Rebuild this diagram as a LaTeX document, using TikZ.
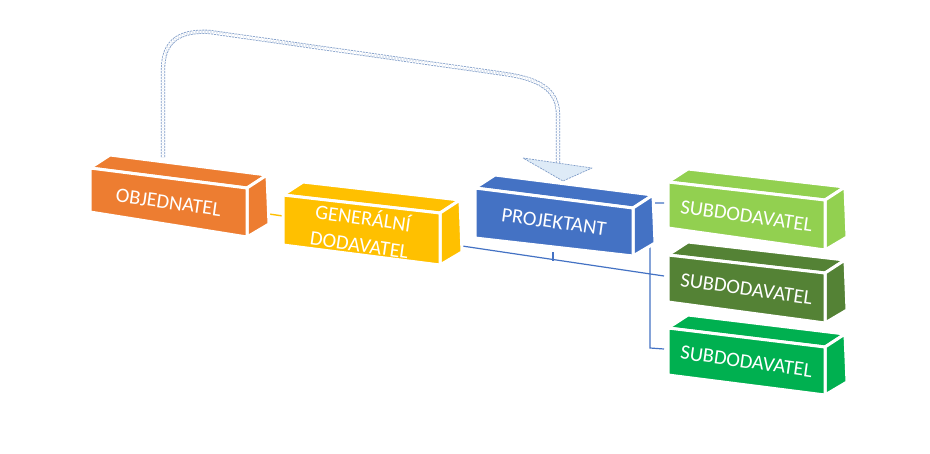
\documentclass[tikz,border=0pt]{standalone}
\usepackage{fontspec}
\setmainfont{Carlito}
\usetikzlibrary{calc}
\definecolor{cOrange}{HTML}{ED7D31}
\definecolor{cGold}{HTML}{FFC000}
\definecolor{cBlue}{HTML}{4472C4}
\definecolor{cLime}{HTML}{92D050}
\definecolor{cDark}{HTML}{548235}
\definecolor{cGreen}{HTML}{00B050}
\definecolor{cDash}{HTML}{7F9CC8}
\definecolor{cHead}{HTML}{DEEBF7}
\tikzset{
  face/.style={draw=white, line width=3pt, line join=round},
  cubetext/.style={text=white, font=\fontsize{20.5}{27}\selectfont, align=center, inner sep=0pt},
  link/.style={draw=cBlue, line width=1.2pt},
  linkgold/.style={draw=cGold, line width=1.4pt},
  band/.style={draw=cDash, line width=0.8pt, dash pattern=on 2pt off 1pt, double=white, double distance=2.6pt},
  headshape/.style={fill=cHead, draw=cDash, line width=0.7pt, dash pattern=on 2pt off 1pt, line join=round}
}
% #1 name, #2 colour, #3 x, #4 y, #5 right x, #6 rise, #7 left height, #8 right height, #9 text
\newcommand\cubeblock[9]{%
  \coordinate (#1-tl) at (#3,#4);
  \coordinate (#1-tr) at (#5,{#4+#6});
  \coordinate (#1-br) at (#5,{#4+#6+#8});
  \coordinate (#1-bl) at (#3,{#4+#7});
  \filldraw[face, fill=#2] (#1-tl) -- (#1-tr) -- ++(20,-13) -- ($(#1-tl)+(20,-13)$) -- cycle;
  \filldraw[face, fill=#2] (#1-tr) -- ++(20,-13) -- ($(#1-br)+(22,-13)$) -- (#1-br) -- cycle;
  \filldraw[face, fill=#2] (#1-tl) -- (#1-tr) -- (#1-br) -- (#1-bl) -- cycle;
  \node[cubetext, rotate=-8] (#1) at ($(#1-tl)!0.5!(#1-br)$) {#9};
}
\begin{document}
\begin{tikzpicture}[x=1pt,y=-1pt]
\useasboundingbox[fill=white] (0,0) rectangle (930,453);

% connectors behind blocks
\coordinate (objR) at (255,212);
\coordinate (gdL) at (283,216);
\coordinate (gdR) at (442,243);
\coordinate (sub2L) at (664,276);
\coordinate (projB) at (553,252);
\coordinate (projJ) at (553,261);
\coordinate (sub1L) at (664,203);
\coordinate (sub3L) at (664,349);
\coordinate (railTop) at (650,203);
\coordinate (railBot) at (650,348);

\draw[linkgold] (objR) -- (gdL);
\draw[link] (gdR) -- (sub2L);
\draw[link] (projB) -- (projJ);
\draw[link] (sub1L) -- (railTop) -- (railBot) -- (sub3L);

\cubeblock{obj}{cOrange}{90}{168}{247}{20}{44}{49}{OBJEDNATEL}
\cubeblock{gd}{cGold}{283}{195}{440}{18}{50}{52}{GENERÁLNÍ\\DODAVATEL}
\cubeblock{proj}{cBlue}{475}{188}{633}{20}{50}{48}{PROJEKTANT}
\cubeblock{subA}{cLime}{668}{182}{825}{18}{46}{50}{SUBDODAVATEL}
\cubeblock{subB}{cDark}{668}{255}{825}{18}{47}{50}{SUBDODAVATEL}
\cubeblock{subC}{cGreen}{668}{328}{825}{19}{47}{48}{SUBDODAVATEL}

% curved dashed block arrow from OBJEDNATEL to PROJEKTANT
\coordinate (objTop) at (163,157);
\coordinate (headBase) at (558,163);
\coordinate (headL) at (523,158);
\coordinate (headR) at (592,168);
\coordinate (headTip) at (563,181);
\draw[band] (objTop) -- (163,70) .. controls (163,42) and (178,30) .. (210,32)
  -- (505,74) .. controls (540,79) and (558,90) .. (558,115) -- (headBase);
\filldraw[headshape] (headL) -- (headR) -- (headTip) -- cycle;
\end{tikzpicture}
\end{document}
